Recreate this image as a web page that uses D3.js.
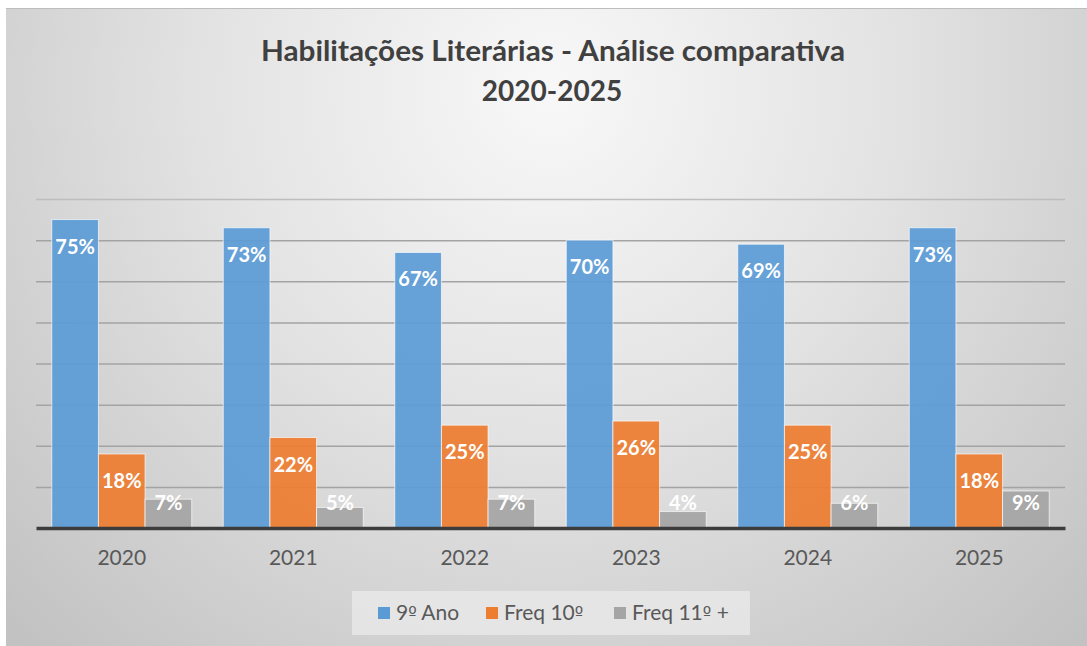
<!DOCTYPE html>
<html>
<head>
<meta charset="utf-8">
<script src="https://cdn.jsdelivr.net/npm/d3@7"></script>
<style>
  body { margin: 0; background: #fff; }
  svg { display: block; }
  text { font-family: Lato, "Open Sans", sans-serif; }
</style>
</head>
<body>
<svg id="chart" width="1087" height="646"></svg>
<script>
// data
var annos = ["2020", "2021", "2022", "2023", "2024", "2025"];
var series = ["9º Ano", "Freq 10º", "Freq 11º +"];
var nonoAno = [75, 73, 67, 70, 69, 73];
var freq10 = [18, 22, 25, 26, 25, 18];
var freq11 = [7, 5, 7, 4, 6, 9];
var cores = ["#5b9bd5", "#ed7d31", "#a5a5a5"];

var largeur = 1087, hauteur = 646;
var svg = d3.select("#chart");

// background gradient
var defs = svg.append("defs");
var grad = defs.append("radialGradient")
    .attr("id", "fond")
    .attr("gradientUnits", "userSpaceOnUse")
    .attr("cx", 550).attr("cy", 90).attr("r", 760);
grad.append("stop").attr("offset", 0).attr("stop-color", "#f8f8f8");
grad.append("stop").attr("offset", 0.45).attr("stop-color", "#e3e3e3");
grad.append("stop").attr("offset", 1).attr("stop-color", "#c2c2c2");

svg.append("rect")
    .attr("x", 6).attr("y", 8)
    .attr("width", largeur - 6).attr("height", hauteur - 8)
    .style("fill", "url(#fond)");
svg.append("line")
    .attr("x1", 6).attr("x2", largeur).attr("y1", 8.5).attr("y2", 8.5)
    .style("stroke", "#bdbdbd").style("stroke-width", 1);

var table = annos.map(function(a, i) {
    return {annee: a, valeurs: [nonoAno[i], freq10[i], freq11[i]]};
});

var x0 = d3.scaleBand().domain(annos).range([36, 1065]).padding(0);
var bw = x0.bandwidth();
var gap = bw * 0.184;
var x1 = d3.scaleBand().domain(series).range([gap / 2, bw - gap / 2]).padding(0);
var y = d3.scaleLinear().domain([0, 80]).range([528, 199]);

// gridlines
var grille = d3.axisLeft(y).tickValues(d3.range(10, 90, 10))
    .tickSize(-(1065 - 36)).tickFormat("");
svg.append("g")
    .attr("transform", "translate(36,0)")
    .call(grille)
    .call(function(g) {
        g.select(".domain").remove();
        g.selectAll(".tick line")
            .style("stroke", function(d) { return d == 80 ? "#bdbdbd" : "#a3a3a3"; })
            .style("stroke-width", 1.5);
    });

// bars
var groupes = svg.selectAll(".groupe")
    .data(table)
    .enter()
    .append("g")
    .attr("class", "groupe")
    .attr("transform", function(d) { return "translate(" + x0(d.annee) + ",0)"; });

groupes.selectAll("rect")
    .data(function(d) { return d.valeurs.map(function(v, j) { return {s: series[j], v: v, j: j}; }); })
    .enter()
    .append("rect")
    .attr("x", function(d) { return x1(d.s); })
    .attr("y", function(d) { return y(d.v); })
    .attr("width", x1.bandwidth())
    .attr("height", function(d) { return y(0) - y(d.v); })
    .style("fill", function(d) { return cores[d.j]; })
    .style("fill-opacity", 0.93)
    .style("stroke", "rgba(255,255,255,0.65)")
    .style("stroke-width", 1);

groupes.selectAll(".valeur")
    .data(function(d) { return d.valeurs.map(function(v, j) { return {s: series[j], v: v, j: j}; }); })
    .enter()
    .append("text")
    .attr("class", "valeur")
    .attr("x", function(d) { return x1(d.s) + x1.bandwidth() / 2; })
    .attr("y", function(d) { return Math.min(y(d.v) + 34, y(0) - 18); })
    .attr("text-anchor", "middle")
    .style("font-size", "20px")
    .style("font-weight", "bold")
    .style("fill", "#ffffff")
    .text(function(d) { return d.v + "%"; });

// x axis
var axeX = d3.axisBottom(x0).tickSize(0).tickPadding(22);
svg.append("g")
    .attr("transform", "translate(0," + y(0) + ")")
    .call(axeX)
    .call(function(g) {
        g.select(".domain").style("stroke", "#3c3c3c").style("stroke-width", 3.5);
        g.selectAll(".tick text")
            .style("font-family", "Lato, sans-serif")
            .style("font-size", "21px")
            .style("fill", "#595959");
    });

// title
var titre = svg.append("text")
    .attr("x", 553).attr("y", 61)
    .attr("text-anchor", "middle")
    .style("font-size", "28px")
    .style("font-weight", "bold")
    .style("fill", "#404040")
    .text("Habilitações Literárias - Análise comparativa");
titre.attr("textLength", 584).attr("lengthAdjust", "spacingAndGlyphs");
svg.append("text")
    .attr("x", 552).attr("y", 101)
    .attr("text-anchor", "middle")
    .style("font-size", "28px")
    .style("font-weight", "bold")
    .style("fill", "#404040")
    .text("2020-2025");

// legend
svg.append("rect")
    .attr("x", 352).attr("y", 591)
    .attr("width", 398).attr("height", 44)
    .style("fill", "#e8e8e8").style("fill-opacity", 0.85);

var legX = [378, 486, 614];
var leg = svg.selectAll(".leg")
    .data(series)
    .enter()
    .append("g")
    .attr("class", "leg")
    .attr("transform", function(d, i) { return "translate(" + legX[i] + ",607)"; });
leg.append("rect")
    .attr("width", 12).attr("height", 12)
    .style("fill", function(d, i) { return cores[i]; });
// the ordinal sign is drawn in DejaVu Sans, which underlines it like the original
leg.append("text")
    .attr("x", 18).attr("y", 13)
    .style("font-size", "21px")
    .style("fill", "#595959")
    .each(function(d) {
        var t = d3.select(this);
        d.split(/(º)/).forEach(function(part) {
            if (!part) return;
            var ts = t.append("tspan").text(part);
            if (part == "º") ts.style("font-family", "'DejaVu Sans', sans-serif").style("font-size", "18px");
        });
    });
</script>
</body>
</html>
